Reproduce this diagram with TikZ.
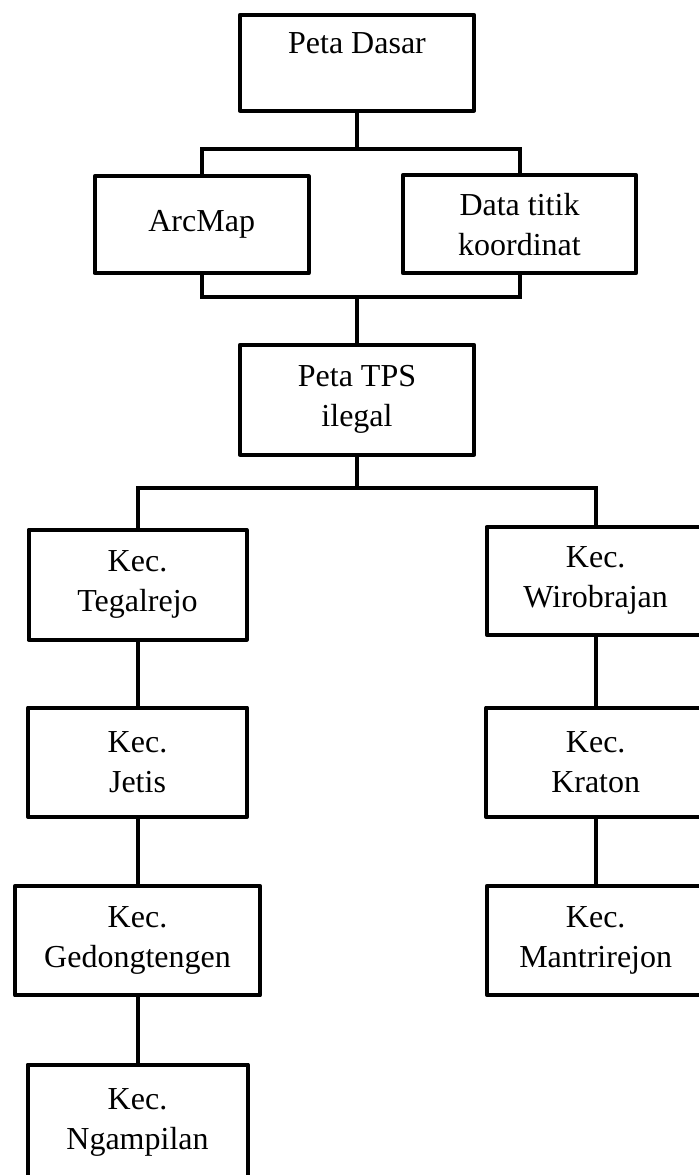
\documentclass[tikz,border=0pt]{standalone}
\usepackage{fontspec}
\setmainfont{Liberation Serif}

\tikzset{
  kotak/.style={draw, line width=2pt, line join=round, align=center, inner sep=0pt,
    font=\fontsize{16}{20}\selectfont},
  garis/.style={line width=2pt}
}

\begin{document}
\begin{tikzpicture}[x=0.5pt,y=-0.5pt]
        \useasboundingbox (0,0) rectangle (699,1175);

        % kotak bagian atas
        \node[kotak, minimum width=117pt, minimum height=48pt] (dasar) at (357,62.7) {Peta Dasar\\ \mbox{}};
        \node[kotak, minimum width=107pt, minimum height=48.4pt] (arcmap) at (201.7,224.7) {ArcMap};
        \node[kotak, minimum width=116.8pt, minimum height=48.8pt] (datatitik) at (519.5,224.2) {Data titik\\koordinat};
        \node[kotak, minimum width=117pt, minimum height=55pt] (tps) at (357,399.7) {Peta TPS\\ilegal};

        % kecamatan kiri
        \node[kotak, minimum width=109pt, minimum height=55pt] (tegalrejo) at (137.5,584.7) {Kec.\\Tegalrejo};
        \node[kotak, minimum width=109.5pt, minimum height=54.7pt] (jetis) at (137.5,762.2) {Kec.\\Jetis};
        \node[kotak, minimum width=122.7pt, minimum height=54.5pt] (gedong) at (137.5,940.8) {Kec.\\Gedongtengen};
        \node[kotak, minimum width=110pt, minimum height=57.5pt] (ngampilan) at (137.5,1122) {Kec.\\Ngampilan};

        % kecamatan kanan
        \node[kotak, minimum width=109pt, minimum height=53.9pt] (wirobrajan) at (595.7,580.8) {Kec.\\Wirobrajan};
        \node[kotak, minimum width=109.5pt, minimum height=54.7pt] (kraton) at (595.7,762.2) {Kec.\\Kraton};
        \node[kotak, minimum width=109pt, minimum height=54.3pt] (mantri) at (595.7,940.3) {Kec.\\Mantrirejon};

        % titik cabang
        \coordinate (cabang1) at (357,148.7);
        \coordinate (cabang2) at (357,297.3);
        \coordinate (cabang3) at (357,487.5);

        % garis penghubung
        \draw[garis] (dasar.south) -- (cabang1);
        \draw[garis] (arcmap.north) |- (cabang1) -| (datatitik.north);
        \draw[garis] (arcmap.south) |- (cabang2) -| (datatitik.south);
        \draw[garis] (cabang2) -- (tps.north);
        \draw[garis] (tps.south) -- (cabang3);
        \draw[garis] (tegalrejo.north) |- (cabang3) -| (wirobrajan.north);

        \draw[garis] (tegalrejo.south) -- (jetis.north);
        \draw[garis] (jetis.south) -- (gedong.north);
        \draw[garis] (gedong.south) -- (ngampilan.north);
        \draw[garis] (wirobrajan.south) -- (kraton.north);
        \draw[garis] (kraton.south) -- (mantri.north);

\end{tikzpicture}
\end{document}
